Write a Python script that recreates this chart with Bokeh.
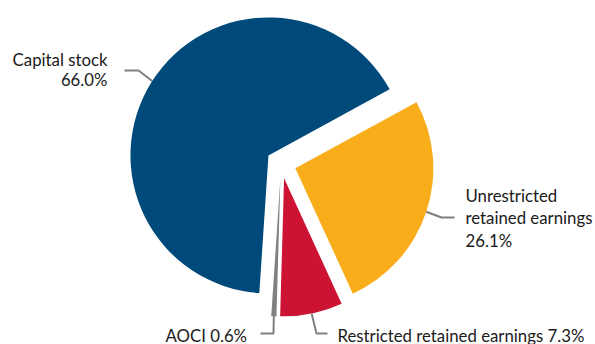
import math
from bokeh.plotting import figure
from bokeh.models import Range1d, ColumnDataSource
from bokeh.core.properties import value
from bokeh.embed import file_html
from bokeh.resources import INLINE

# ---- data ----
categories = ["Capital stock", "Unrestricted retained earnings", "Restricted retained earnings", "AOCI"]
shares = [66.0, 26.1, 7.3, 0.6]
colors = ["#00497B", "#F9AD1B", "#CD1333", "#808080"]

W, H = 595, 344
CX, CY = 280.6, H - 163.0   # pie centre (data coords, y up)
R = 138.0
EXPLODE = 15.0
START = 266.2               # degrees, slices run clockwise

p = figure(width=W, height=H, output_backend="svg", toolbar_location=None,
           x_range=Range1d(0, W), y_range=Range1d(0, H), min_border=0,
           background_fill_color="white", border_fill_color="white")
p.axis.visible = False
p.grid.visible = False
p.outline_line_color = None

xs, ys, sa, ea, mids = [], [], [], [], []
cum = 0.0
total = sum(shares)
for v in shares:
    a0 = START - cum / total * 360.0
    a1 = a0 - v / total * 360.0
    mid = (a0 + a1) / 2.0
    cx = CX + EXPLODE * math.cos(math.radians(mid))
    cy = CY + EXPLODE * math.sin(math.radians(mid))
    xs.append(cx); ys.append(cy); sa.append(a1); ea.append(a0); mids.append(mid)
    cum += v

src = ColumnDataSource(dict(x=xs, y=ys, s=sa, e=ea, c=colors))
p.wedge(x="x", y="y", radius=R, start_angle="s", end_angle="e", start_angle_units="deg",
        end_angle_units="deg", direction="anticlock", fill_color="c", line_color=None, source=src)

def arc_pt(i, r=R):
    m = math.radians(mids[i])
    return xs[i] + r * math.cos(m), ys[i] + r * math.sin(m)

def sy(y):
    return H - y

LEADER = "#7F7F7F"
# Capital stock leader
x0, y0 = arc_pt(0)
p.line([x0, 138, 124], [y0, sy(70), sy(70)], line_color=LEADER, line_width=2)
# Unrestricted leader
x0, y0 = arc_pt(1)
p.line([x0, 441, 454], [y0, sy(217), sy(217)], line_color=LEADER, line_width=2)
# Restricted leader
x0, y0 = arc_pt(2)
p.line([x0, 316, 327], [y0, sy(333), sy(333)], line_color=LEADER, line_width=2)
# AOCI leader
x0, y0 = arc_pt(3)
p.line([x0, 273, 260], [y0, sy(333), sy(333)], line_color=LEADER, line_width=2)

FONT = value("Lato")
FS = "16.8px"
def label(x, y, txt, align):
    p.text(x=[x], y=[sy(y)], text=[txt], text_font=FONT, text_font_size=FS,
           text_align=align, text_baseline="middle", text_color="#1A1A1A")

label(107, 59, "Capital stock", "right")
label(107, 78.5, "%.1f%%" % shares[0], "right")
label(465, 195, "Unrestricted", "left")
label(465, 217, "retained earnings", "left")
label(465, 240, "%.1f%%" % shares[1], "left")
label(337, 334.5, "Restricted retained earnings %.1f%%" % shares[2], "left")
label(165, 334.5, "AOCI %.1f%%" % shares[3], "left")

open("out.html", "w").write(file_html(p, INLINE))
